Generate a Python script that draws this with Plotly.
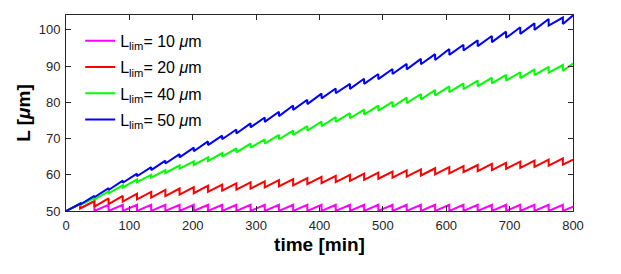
import plotly.graph_objects as go

# time of each length drop [min]
drop_times = [22.4, 44.8, 67.2, 89.6, 112, 134.4, 156.8, 179.2, 201.6, 224,
              246.4, 268.8, 291.2, 313.6, 336, 358.4, 380.8, 403.2, 425.6, 448,
              470.4, 492.8, 515.2, 537.6, 560, 582.4, 604.8, 627.2, 649.6, 672,
              694.4, 716.8, 739.2, 761.6, 784]
t_start, t_end = 0, 800
L_start = 50

# L_lim = 10 um
mag_peak = [52.0, 52.7] + [51.7] * 33
mag_trough = [50.7] + [50.0] * 34
mag_end = 51.2

# L_lim = 20 um
red_peak = [52.0, 52.7, 53.5, 54.2, 54.8, 55.3, 55.8, 56.2, 56.6, 57.0,
            57.3, 57.6, 57.9, 58.2, 58.5, 58.8, 59.1, 59.4, 59.7, 60.0,
            60.3, 60.6, 60.9, 61.2, 61.5, 61.8, 62.1, 62.4, 62.7, 63.0,
            63.3, 63.6, 63.9, 64.2, 64.5]
red_trough = [50.7, 51.2, 51.9, 52.6, 53.2, 53.7, 54.1, 54.5, 54.9, 55.3,
              55.6, 55.9, 56.2, 56.5, 56.8, 57.1, 57.4, 57.7, 58.0, 58.3,
              58.6, 58.9, 59.2, 59.5, 59.8, 60.1, 60.4, 60.7, 61.0, 61.3,
              61.6, 61.9, 62.2, 62.5, 62.8]
red_end = 64.2

# L_lim = 40 um
grn_peak = [52.0, 53.6, 55.4, 57.1, 58.7, 60.0, 61.3, 62.6, 63.7, 64.8,
            66.0, 67.3, 68.6, 69.8, 71.0, 72.2, 73.4, 74.7, 75.9, 77.0,
            78.0, 79.1, 80.1, 81.3, 82.3, 83.4, 84.4, 85.2, 86.0, 86.8,
            87.6, 88.3, 89.1, 89.8, 90.3]
grn_trough = [51.6, 53.2, 54.9, 56.5, 58.0, 59.2, 60.5, 61.7, 62.7, 63.8,
              65.0, 66.2, 67.5, 68.6, 69.8, 71.0, 72.2, 73.4, 74.6, 75.6,
              76.6, 77.7, 78.7, 79.8, 80.8, 81.9, 82.8, 83.6, 84.4, 85.2,
              86.0, 86.7, 87.5, 88.2, 88.7]
grn_end = 90.7

# L_lim = 50 um
blu_peak = [52.0, 54.2, 56.3, 58.4, 60.3, 62.1, 63.9, 65.7, 67.5, 69.2,
            70.8, 72.5, 74.2, 75.8, 77.4, 79.1, 80.7, 82.4, 83.8, 85.1,
            86.5, 87.8, 89.2, 90.6, 92.0, 93.3, 94.7, 95.9, 97.1, 98.3,
            99.5, 100.7, 101.8, 103.0, 103.4]
blu_trough = [51.8, 53.8, 55.8, 57.8, 59.6, 61.3, 63.1, 64.8, 66.5, 68.2,
              69.8, 71.4, 73.1, 74.6, 76.2, 77.9, 79.5, 81.1, 82.5, 83.7,
              85.1, 86.4, 87.8, 89.1, 90.5, 91.7, 93.1, 94.3, 95.5, 96.6,
              97.8, 98.9, 100.0, 101.2, 101.6]
blu_end = 104.0

names = ["L<sub>lim</sub>= 10 <i>\u03bc</i>m", "L<sub>lim</sub>= 20 <i>\u03bc</i>m",
         "L<sub>lim</sub>= 40 <i>\u03bc</i>m", "L<sub>lim</sub>= 50 <i>\u03bc</i>m"]
colors = ["#ff00ff", "#ff0000", "#00ff00", "#0000ff"]
series = [(mag_peak, mag_trough, mag_end), (red_peak, red_trough, red_end),
          (grn_peak, grn_trough, grn_end), (blu_peak, blu_trough, blu_end)]


def build(peaks, troughs, end):
    xs, ys = [t_start], [L_start]
    for t, p, tr in zip(drop_times, peaks, troughs):
        xs += [t, t]
        ys += [p, tr]
    xs.append(t_end)
    ys.append(end)
    return xs, ys


fig = go.Figure()
for i, ((pk, tr, en), nm, col) in enumerate(zip(series, names, colors)):
    xs, ys = build(pk, tr, en)
    fig.add_trace(go.Scatter(x=xs, y=ys, mode="lines", name=nm,
                             legendgroup=str(i),
                             line=dict(color=col, width=2)))

axis_col = "#262626"
fig.update_layout(
    width=613, height=266,
    margin=dict(l=57.5, r=47.5, t=7, b=63),
    paper_bgcolor="white", plot_bgcolor="white",
    font=dict(family="Liberation Sans, Arial, sans-serif", color=axis_col, size=13),
    showlegend=True,
    legend=dict(x=0.028, y=0.955, xanchor="left", yanchor="top",
                bgcolor="rgba(0,0,0,0)", borderwidth=0,
                font=dict(size=16, color="black"),
                tracegroupgap=2.5, traceorder="grouped"),
    xaxis=dict(range=[0, 800], tickvals=[0, 100, 200, 300, 400, 500, 600, 700, 800],
               ticks="inside", ticklen=5, tickcolor=axis_col, showline=True,
               linecolor=axis_col, linewidth=1, mirror="ticks", showgrid=False,
               zeroline=False, ticklabelstandoff=2,
               title=dict(text="<b>time [min]</b>", font=dict(size=19, color="black"),
                          standoff=6)),
    yaxis=dict(range=[50, 104.1], tickvals=[50, 60, 70, 80, 90, 100],
               ticks="inside", ticklen=5, tickcolor=axis_col, showline=True,
               linecolor=axis_col, linewidth=1, mirror="ticks", showgrid=False,
               zeroline=False, ticklabelstandoff=2,
               title=dict(text="<b>L [<i>\u03bc</i>m]</b>", font=dict(size=19, color="black"),
                          standoff=3)),
)

fig.write_html("out.html")
